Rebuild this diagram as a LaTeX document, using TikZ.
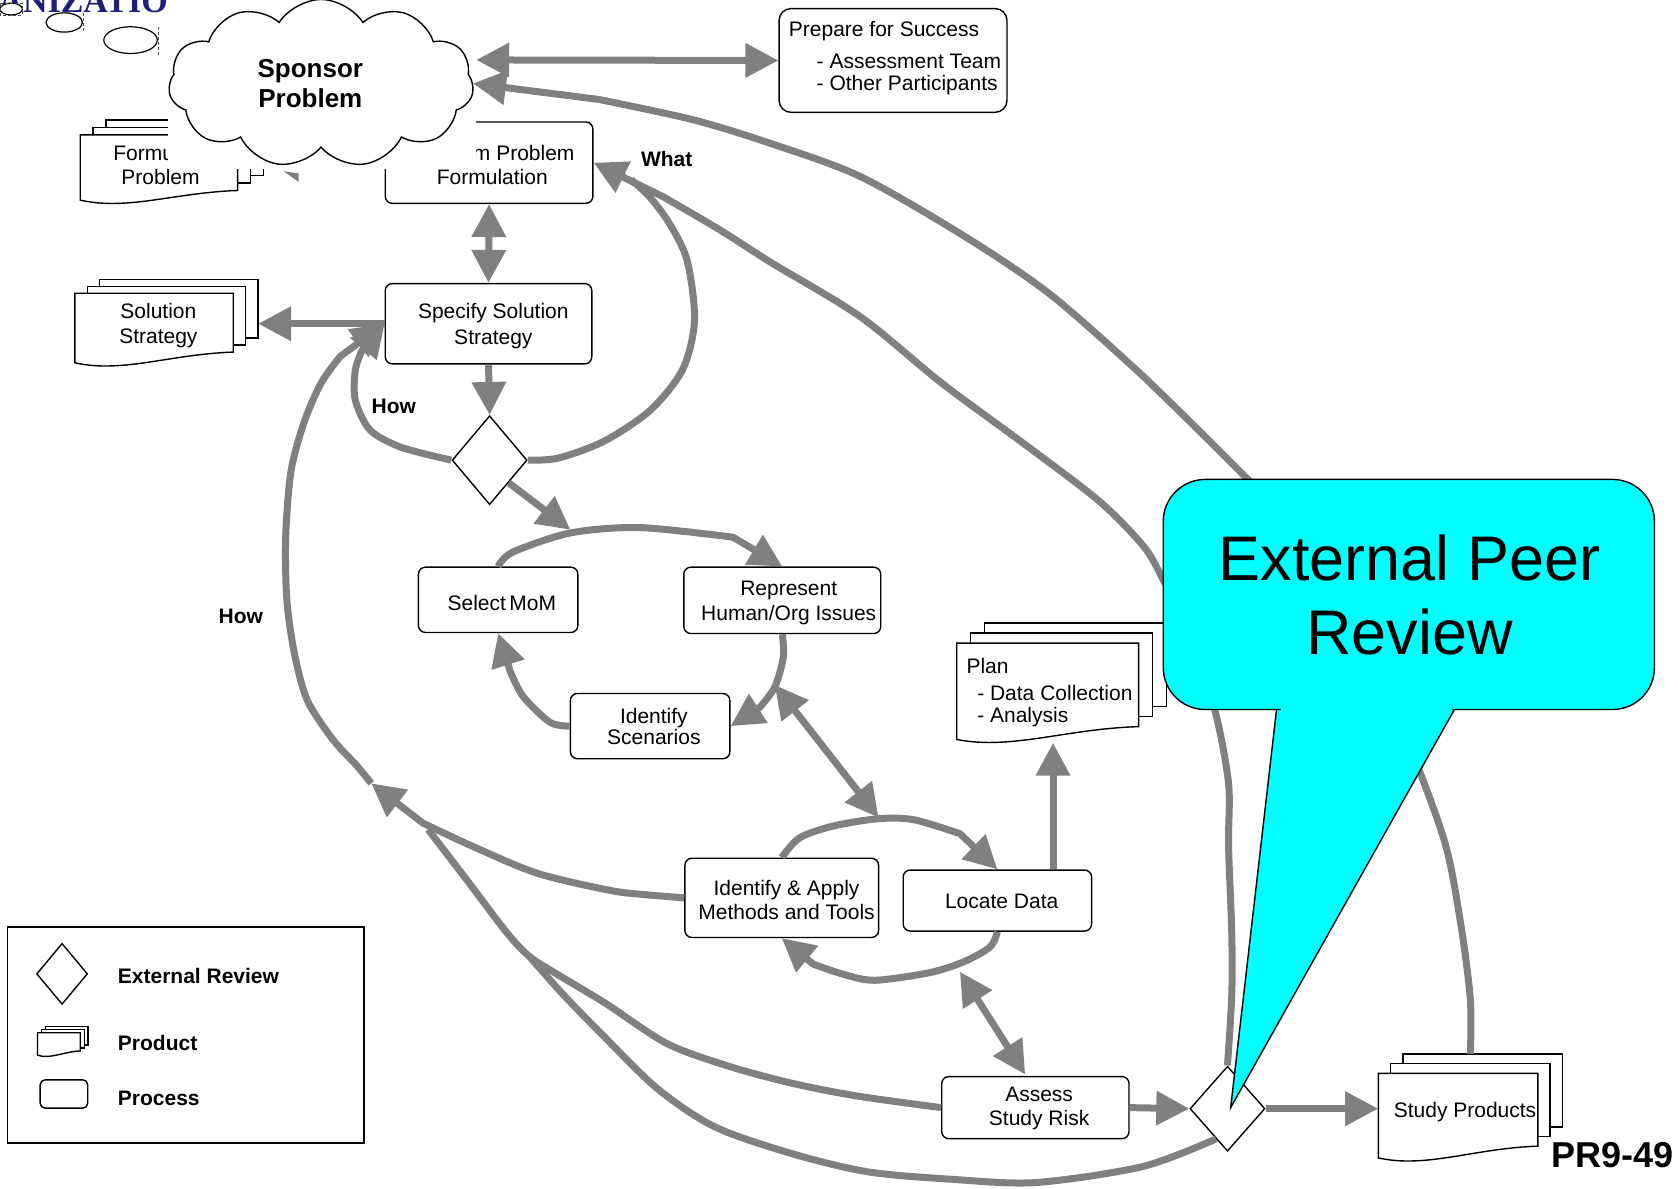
\documentclass[tikz,border=0pt]{standalone}
\usepackage{fontspec}
\setmainfont{Liberation Sans}
\newfontfamily\orgserif{Liberation Serif}
\usetikzlibrary{arrows.meta,shapes.geometric,shapes.symbols,fit,calc}
\definecolor{conngray}{HTML}{808080}
\definecolor{callcyan}{HTML}{00FFFF}
\definecolor{orgnavy}{HTML}{1E1E7A}
\newcommand{\fsz}[1]{\fontsize{21}{#1}\selectfont}
% #1 name, #2 x1, #3 top, #4 x2, #5 bottom-left y, #6 bottom-right y, #7 dx, #8 dy, #9 wave depth
\newcommand{\prodstack}[9]{%
  \draw[sheet] ({#2+2*#7},{#3-2*#8}) rectangle ({#4+2*#7},{#6-2*#8});
  \draw[sheet] ({#2+#7},{#3-#8}) rectangle ({#4+#7},{#6-#8});
  \draw[sheet] (#2,#3) -- (#4,#3) -- (#4,#6) .. controls +({-0.4*(#4-#2)},{0.2*#9}) and +({0.3*(#4-#2)},{#9}) .. (#2,#5) -- cycle;
  \node[fit={(#2,{#3-2*#8}) ({#4+2*#7},#5)}, inner sep=0pt] (#1) {};
}
\begin{document}
\begin{tikzpicture}[x=1.0702pt, y=-1.0702pt, font=\fsz{24},
  conn/.style={draw=conngray, line width=7pt, line join=round},
  tipA/.style={-{Triangle[length=33pt,width=33pt]}},
  tipAA/.style={{Triangle[length=33pt,width=33pt]}-{Triangle[length=33pt,width=33pt]}},
  box/.style={draw=black, line width=1.4pt, fill=white, rounded corners=7pt, inner sep=0pt},
  sheet/.style={draw=black, line width=1.4pt, fill=white},
  diam/.style={draw=black, line width=1.4pt, fill=white, diamond, inner sep=0pt},
  txt/.style={inner sep=0pt, align=center},
  lbl/.style={inner sep=0pt, font=\fontsize{21}{24}\selectfont\bfseries},
  artifact/.style={densely dashed, line width=0.5pt, black!70}
]
\useasboundingbox (0,0) rectangle (1568,1111);

% ---- partly hidden title and thought bubbles
\node[anchor=base west, inner sep=0pt, text=orgnavy, font=\orgserif\bfseries\fontsize{34}{34}\selectfont] (orgtitle) at (-74,12) {ORGANIZATION};
\draw[line width=1.2pt, fill=white] (10.5,8.5) ellipse [x radius=10.5, y radius=5.5];
\draw[line width=1.2pt, fill=white] (60,21) ellipse [x radius=17, y radius=9];
\draw[line width=1.2pt, fill=white] (122,37.5) ellipse [x radius=25, y radius=12.5];
\draw[artifact] (0,3) rectangle (21,14);
\draw[artifact] (78,12) -- (78,30);
\draw[artifact] (148,25) -- (148,51);

% ---- items behind the cloud
\prodstack{form}{75}{126}{222}{187}{178}{12}{7}{10}
\node[txt, font=\fsz{23.5}] (formtxt) at (150,154) {Formulate\\Problem};
\node[box, fit={(360,114)(554,190)}] (team) {};
\node[txt, anchor=east] (teamA) at (537,143) {Team Problem};
\node[txt] (teamB) at (460,165) {Formulation};
\fill[conngray] (265,160) -- (279,162) -- (279,170) -- cycle;

% ---- white area behind the cloud, then the cloud
\fill[white] (157,0) rectangle (445,158);
\node[cloud, cloud puffs=11, cloud puff arc=115, cloud ignores aspect, draw, line width=1.4pt, fill=white, minimum width=305pt, minimum height=168pt, inner sep=0pt] (sponsor) at (300,78) {};
\node[txt, font=\fontsize{26}{30}\selectfont\bfseries] (sponsortxt) at (290,78) {Sponsor\\Problem};

% ---- boxes
\node[box, rounded corners=12pt, fit={(728,8)(941,105)}] (prep) {};
\node[txt, anchor=west] (prep1) at (737,29.5) {Prepare for Success};
\node[txt, anchor=west] (prep2) at (763,57.5) {- Assessment Team};
\node[txt, anchor=west] (prep3) at (763,79.5) {- Other Participants};

\node[box, fit={(360,265)(553,340)}] (spec) {};
\node[txt, font=\fsz{26}] (spectxt) at (461,305) {Specify Solution\\Strategy};

\prodstack{sol}{70}{274}{218}{339}{329}{11.5}{6.5}{10}
\node[txt, font=\fsz{25.5}] (soltxt) at (148,304) {Solution\\Strategy};

\node[diam, minimum width=75pt, minimum height=89pt] (d1) at (457.5,430) {};

\node[box, fit={(391,530)(540,591)}] (select) {};
\node[txt] (selecttxt) at (469,563) {Select\,MoM};
\node[box, fit={(639,530)(823,592)}] (rep) {};
\node[txt, font=\fsz{24.5}] (reptxt) at (737,563.5) {Represent\\Human/Org Issues};
\node[box, fit={(533,648)(682,709)}] (scen) {};
\node[txt, font=\fsz{21.5}] (scentxt) at (611,679) {Identify\\Scenarios};

\prodstack{plan}{894}{601}{1064}{691}{679}{13}{9.5}{10}
\node[txt, anchor=west] (plan1) at (903,622) {Plan};
\node[txt, anchor=west] (plan2) at (913,648) {- Data Collection};
\node[txt, anchor=west] (plan3) at (913,670) {- Analysis};

\node[box, fit={(640,802)(821,876)}] (ia) {};
\node[txt, font=\fsz{23.5}] (iatxt) at (735,841) {Identify \& Apply\\Methods and Tools};
\node[box, fit={(844,813)(1020,870)}] (locate) {};
\node[txt] (locatetxt) at (936,842) {Locate Data};
\node[box, fit={(880,1006)(1055,1064)}] (assess) {};
\node[txt, font=\fsz{23.5}] (assesstxt) at (971,1036) {Assess\\Study Risk};
\node[diam, minimum width=75pt, minimum height=85pt] (d2) at (1147,1036) {};
\prodstack{study}{1288}{1003}{1437}{1082}{1071}{11.5}{9}{10}
\node[txt] (studytxt) at (1369,1039) {Study Products};

% ---- free connector ends
\coordinate (spR) at (445,56);
\coordinate (spR2) at (442,78);
\coordinate (howP) at (347,732);
\coordinate (loopA) at (533,495);
\coordinate (dblA1) at (724,640);
\coordinate (dblA2) at (821,764);
\coordinate (dblB1) at (897,908);
\coordinate (dblB2) at (958,1004);
\coordinate (plantip) at (984,694);
\coordinate (whatjoin) at (590,168);

% ---- connectors
\draw[conn, tipAA] (spR) -- (prep.west);
\draw[conn, tipA] plot[smooth, tension=0.5] coordinates {(study.north) (1374,935) (1366,870) (1352,794) (1327,722) (1300,660) (1235,530) (1195,478) (1165,447) (1120,402) (1060,344) (980,274) (900,220) (804,165) (720,134) (648,112) (560,93)} -- (spR2);
\draw[conn, tipA] plot[smooth, tension=0.5] coordinates {(d2.north) (1151,930) (1151,872) (1148,790) (1148,732) (1135,663) (1110,590) (1087,542) (1069,511) (1028,469) (960,417) (880,358) (804,296) (720,245) (673,215) (620,184)} -- (team.east);
\draw[conn] plot[smooth, tension=0.5] coordinates {(d1.east) (522,428) (565,412) (608,383) (638,345) (649,299) (642,243) (625,208) (607,184) (whatjoin)};
\draw[conn, tipAA] (team.south) -- (spec.north);
\draw[conn, tipA] (spec.west) -- (spec.west -| sol.east);
\draw[conn, tipA] (spec.south) -- (d1.north);
\draw[conn, tipA] plot[smooth, tension=0.5] coordinates {(d1.west) (375,418) (346,402) (332,374) (332,346) (338,328)} -- (spec.west);
\draw[conn, tipA] plot[smooth, tension=0.5] coordinates {(howP) (333,715) (311,691) (287,654) (275,610) (268,560) (267,500) (272,440) (284,395) (300,358) (318,333)} -- (spec.west);
\draw[conn] plot[smooth, tension=0.5] coordinates {(assess.west) (800,1024) (739,1012) (680,996) (623,975) (565,937) (520,910) (495,894) (474,872) (436,822) (400,775)};
\draw[conn] plot[smooth, tension=0.5] coordinates {($(d2.south)!0.3!(d2.west)$) (1068,1090) (968,1105) (890,1102) (811,1095) (740,1078) (668,1053) (614,1017) (561,965) (525,928) (495,894)};
\draw[conn, tipA] plot[smooth, tension=0.5] coordinates {(ia.west) (603,836) (570,832) (502,816) (442,791) (395,769)} -- (howP);
\draw[conn, tipA] (d1.south east) -- (loopA);
\draw[conn, tipA] plot[smooth, tension=0.5] coordinates {(select.north) (479,516) (533,498) (598,493) (685,502)} -- (rep.north);
\draw[conn, tipA] plot[smooth, tension=0.5] coordinates {(rep.south) (732,614) (724,642) (710,661)} -- (scen.east);
\draw[conn, tipA] plot[smooth, tension=0.5] coordinates {(scen.west) (514,675) (489,651) (477,628)} -- (select.south);
\draw[conn, tipAA] (dblA1) -- (dblA2);
\draw[conn, tipA] plot[smooth, tension=0.5] coordinates {(ia.north) (747,783) (778,772) (821,765) (854,766) (897,779)} -- (locate.north);
\draw[conn, tipA] plot[smooth, tension=0.5] coordinates {(locate.south) (925,885) (900,899) (868,909) (818,916) (790,911) (760,901)} -- (ia.south);
\draw[conn, tipAA] (dblB1) -- (dblB2);
\draw[conn, tipA] (locate.north -| plantip) -- (plantip);
\draw[conn, tipA] (assess.east) -- (d2.west);
\draw[conn, tipA] (d2.east) -- (d2.east -| study.west);

% ---- labels
\node[lbl] (what) at (623,149) {What};
\node[lbl] (how1) at (368,380) {How};
\node[lbl] (how2) at (225,576) {How};
\node[inner sep=0pt, font=\fontsize{36}{40}\selectfont\bfseries] (prnum) at (1507,1079) {PR9-49};

% ---- legend
\node[draw, line width=1.6pt, fit={(7,866)(340,1068)}, inner sep=0pt] (legend) {};
\node[diam, minimum width=51pt, minimum height=61pt] (legd) at (58,910) {};
\prodstack{legprod}{35}{965}{75}{986}{982}{3.7}{2.8}{4}
\node[box, rounded corners=5pt, fit={(37.5,1009)(82,1035.5)}] (legproc) {};
\node[lbl, anchor=west] (legt1) at (110,912) {External Review};
\node[lbl, anchor=west] (legt2) at (110,975) {Product};
\node[lbl, anchor=west] (legt3) at (110,1026) {Process};

% ---- callout
\draw[line width=1.4pt, fill=callcyan] (1195.5,640) -- (1150,1035) -- (1372,640) -- cycle;
\node[draw, line width=1.4pt, fill=callcyan, rounded corners=42pt, fit={(1087,448)(1546,663)}, inner sep=0pt] (epr) {};
\draw[callcyan, line width=3pt] (1197,663) -- (1357,663);
\node[txt, font=\fontsize{63}{74}\selectfont] (eprtxt) at (1317,556) {External Peer\\Review};
\end{tikzpicture}
\end{document}
